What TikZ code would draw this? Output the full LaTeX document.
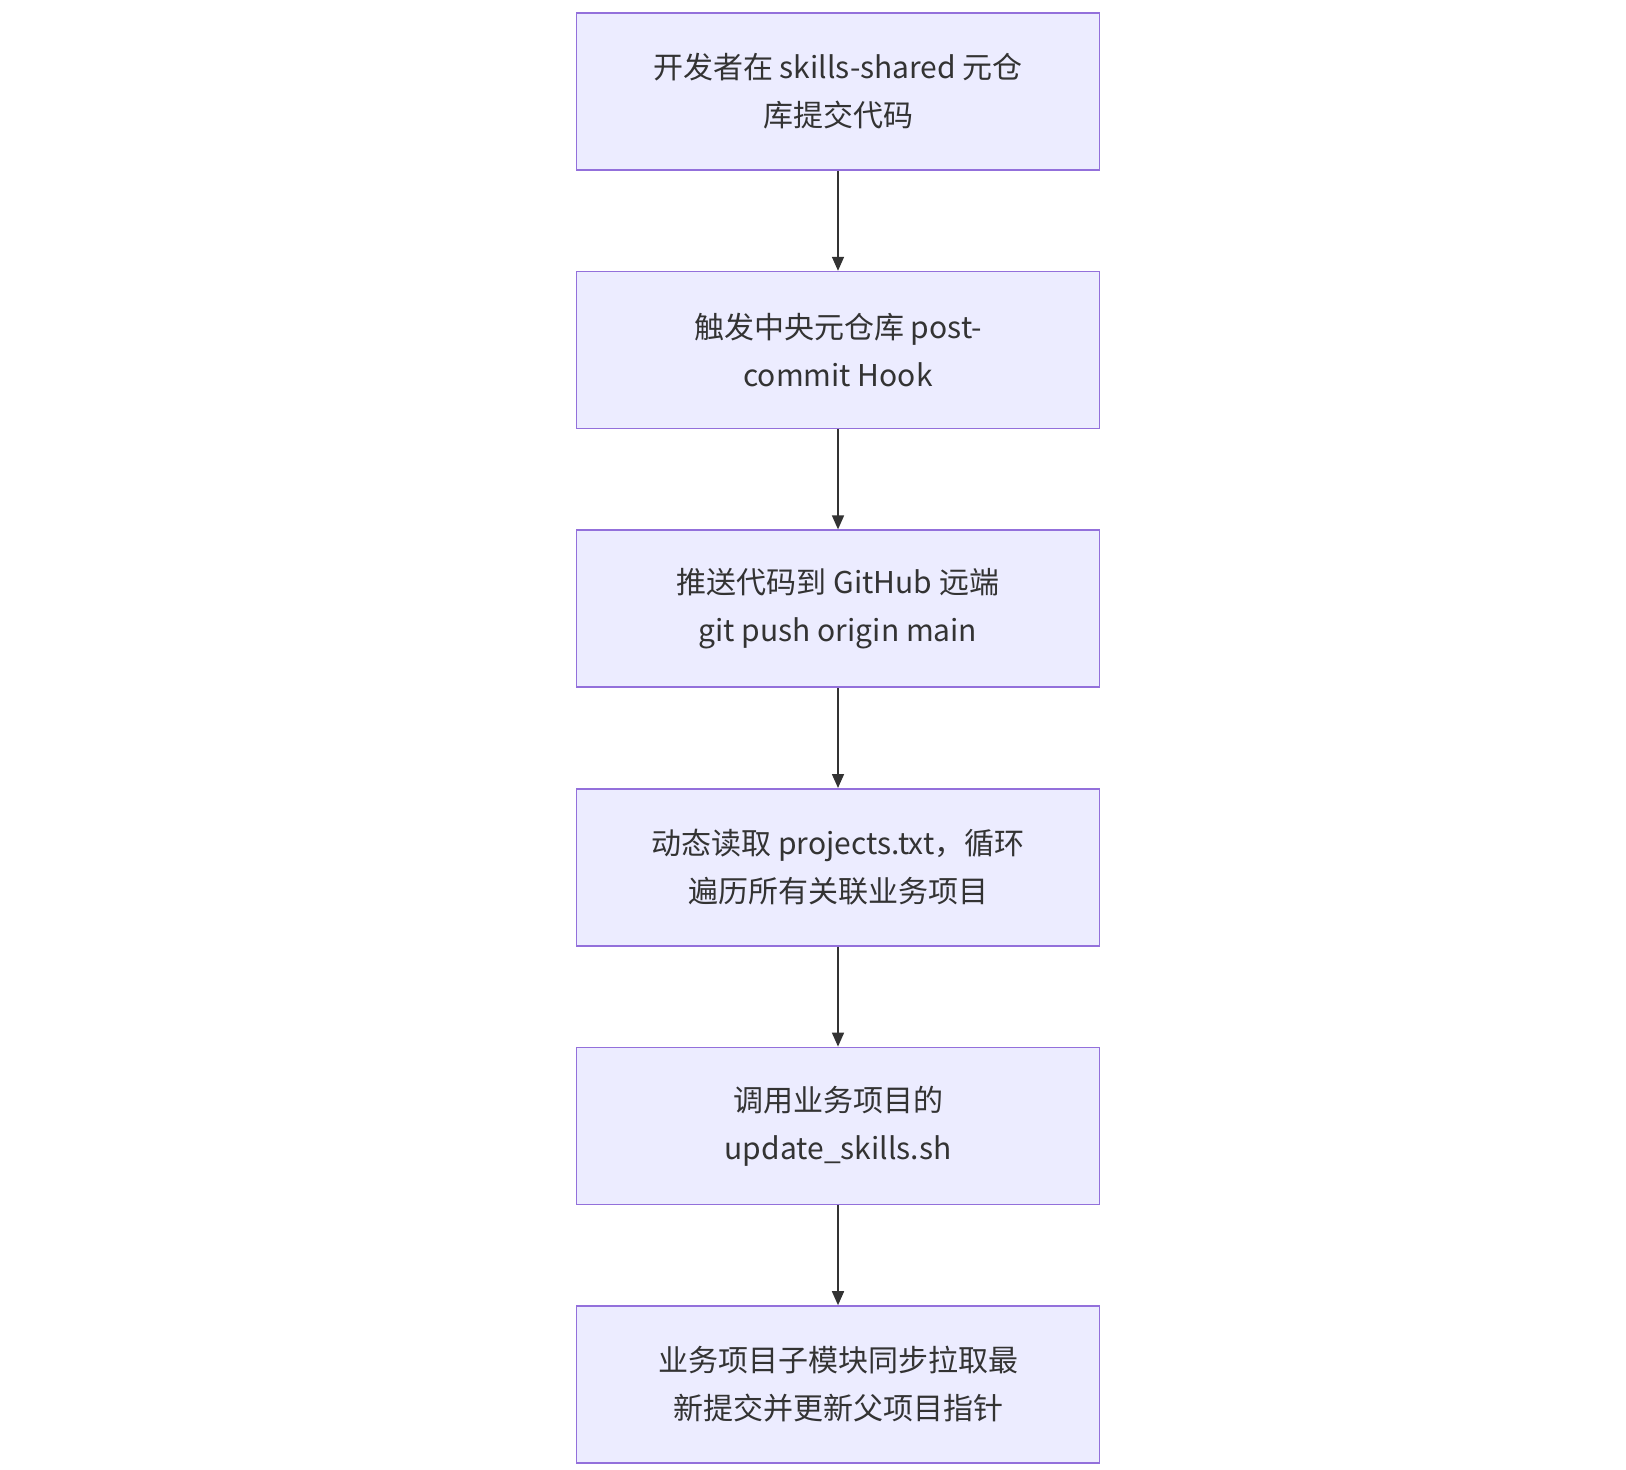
\documentclass[tikz,border=0pt]{standalone}
\usepackage{fontspec}
\setmainfont{Noto Sans CJK SC}
\usetikzlibrary{positioning, arrows.meta}
\definecolor{boxfill}{HTML}{ECECFF}
\definecolor{boxline}{HTML}{9370DB}
\definecolor{inkgray}{HTML}{333333}
\tikzset{
  stage/.style={draw=boxline, fill=boxfill, line width=0.8pt, minimum width=261.5pt, minimum height=78.5pt,
    align=center, text=inkgray, font=\fontsize{15pt}{24pt}\selectfont, inner sep=0pt},
  flow/.style={draw=inkgray, line width=0.8pt, -{Triangle[length=7pt, width=6pt]}}
}
\begin{document}
\begin{tikzpicture}[x=0.5pt, y=-0.5pt]
\useasboundingbox (0,0) rectangle (1626,1470);
\node[stage] (commit) at (838,91.5) {开发者在 skills-shared 元仓\\库提交代码};
\node[stage, below=50pt of commit] (hook) {触发中央元仓库 post-\\commit Hook};
\node[stage, below=50pt of hook] (push) {推送代码到 GitHub 远端\\git push origin main};
\node[stage, below=50pt of push] (loop) {动态读取 projects.txt，循环\\遍历所有关联业务项目};
\node[stage, below=50pt of loop] (script) {调用业务项目的\\update\_skills.sh};
\node[stage, below=50pt of script] (sync) {业务项目子模块同步拉取最\\新提交并更新父项目指针};

\draw[flow] (commit) -- (hook);
\draw[flow] (hook) -- (push);
\draw[flow] (push) -- (loop);
\draw[flow] (loop) -- (script);
\draw[flow] (script) -- (sync);
\end{tikzpicture}
\end{document}
